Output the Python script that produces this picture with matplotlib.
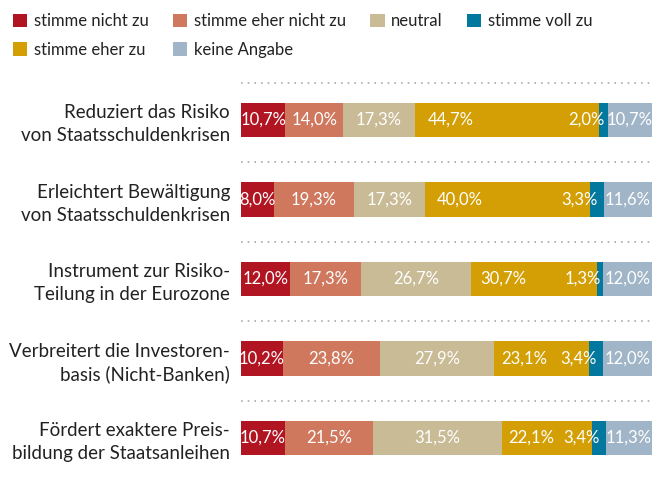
import matplotlib.pyplot as plt
import numpy as np

plt.rcParams['font.family'] = ['Lato', 'DejaVu Sans']

# Aussagen (von oben nach unten)
aussagen = ['Reduziert das Risiko\nvon Staatsschuldenkrisen',
            'Erleichtert Bewältigung\nvon Staatsschuldenkrisen',
            'Instrument zur Risiko-\nTeilung in der Eurozone',
            'Verbreitert die Investoren-\nbasis (Nicht-Banken)',
            'Fördert exaktere Preis-\nbildung der Staatsanleihen']

antworten = ['stimme nicht zu', 'stimme eher nicht zu', 'neutral',
             'stimme eher zu', 'stimme voll zu', 'keine Angabe']
farben = ['#b11522', '#cf785e', '#c8bb96', '#d49f05', '#03789e', '#a0b5c8']

# Anteile in Prozent, je Antwort eine Liste (Reihenfolge wie aussagen)
nicht_zu = [10.7, 8.0, 12.0, 10.2, 10.7]
eher_nicht_zu = [14.0, 19.3, 17.3, 23.8, 21.5]
neutral = [17.3, 17.3, 26.7, 27.9, 31.5]
eher_zu = [44.7, 40.0, 30.7, 23.1, 22.1]
voll_zu = [2.0, 3.3, 1.3, 3.4, 3.4]
keine_angabe = [10.7, 11.6, 12.0, 12.0, 11.3]

werte = np.array([nicht_zu, eher_nicht_zu, neutral, eher_zu, voll_zu, keine_angabe])
breiten = werte / werte.sum(axis=0) * 100  # balken fuellen immer die ganze breite

fig = plt.figure(figsize=(6.52, 4.79), dpi=100)
ax = fig.add_axes([241/652, 0, 411/652, (479-80)/479])

y = np.arange(len(aussagen))
links = np.zeros(len(aussagen))
balken = []
for k in range(len(antworten)):
    b = ax.barh(y, breiten[k], left=links, height=0.43, color=farben[k],
                label=antworten[k], linewidth=0)
    balken.append(b)
    for i in range(len(aussagen)):
        text = '{:.1f}%'.format(werte[k, i]).replace('.', ',')
        if k == 3:
            x, ha = links[i] + 0.07*breiten[k, i], 'left'
        elif k == 4:
            x, ha = links[i] + breiten[k, i]/2 + 0.2, 'right'
        else:
            x, ha = links[i] + breiten[k, i]/2, 'center'
        ax.text(x, y[i], text, ha=ha, va='center', color='white', fontsize=12)
    links = links + breiten[k]

# gepunktete trennlinien
for i in range(len(aussagen)):
    ax.plot([0, 100], [i - 0.47, i - 0.47], color='#aaaaaa', lw=1.2,
            linestyle=(0, (1, 3)), clip_on=False)

ax.set_xlim(0, 100)
ax.set_ylim(4.516, -0.503)
ax.set_yticks(y)
ax.set_yticklabels(aussagen, fontsize=13.5, color='#222222', linespacing=1.4)
ax.tick_params(axis='y', length=0, pad=8)
ax.set_xticks([])
for s in ax.spines.values():
    s.set_visible(False)

# legende zeilenweise wie im original
reihenfolge = [0, 3, 1, 5, 2, 4]
fig.legend([balken[j] for j in reihenfolge], [antworten[j] for j in reihenfolge],
           ncol=4, loc='upper left', bbox_to_anchor=(0, 1.0), frameon=False,
           fontsize=12, handlelength=0.85, handleheight=0.85, handletextpad=0.4,
           columnspacing=1.45, labelspacing=0.75, borderpad=0.3, labelcolor='#222222')

plt.savefig('out.png', dpi=100)
